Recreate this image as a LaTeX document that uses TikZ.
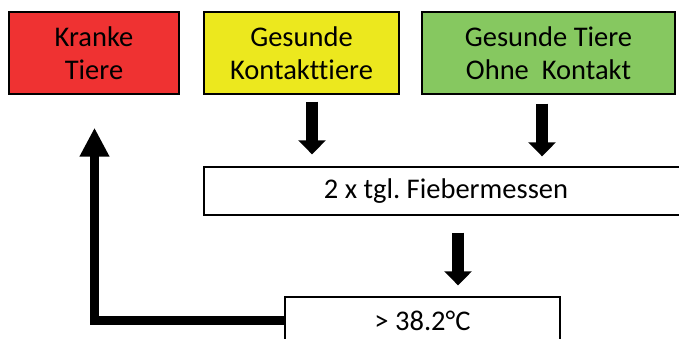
\documentclass[tikz,border=0pt]{standalone}
\usepackage{fontspec}
\setmainfont{Carlito}[Ligatures=NoCommon]
\usetikzlibrary{arrows.meta,calc}

\definecolor{sickred}{RGB}{239,50,50}
\definecolor{contactyellow}{RGB}{236,232,30}
\definecolor{healthygreen}{RGB}{134,200,96}

\tikzset{
  boxtext/.style={font=\fontsize{28.5}{32.5}\selectfont},
  groupbox/.style={boxtext, draw=black, line width=1.4pt, inner sep=0pt,
    align=center},
  flowbox/.style={boxtext, draw=black, line width=1.4pt, fill=white,
    inner sep=0pt, align=center},
  blockarrow/.style={line width=12.5pt, -{Triangle[width=27pt,length=14pt]}},
  returnarrow/.style={line width=9.5pt, -{Triangle[width=28pt,length=29pt]}}
}

\begin{document}
\frenchspacing
\begin{tikzpicture}[x=1pt,y=-1pt]
  \useasboundingbox (0,0) rectangle (679,338);
  \clip (0,0) rectangle (679,338);

  % the three groups of animals
  \node[groupbox, fill=sickred, minimum width=170pt, minimum height=82pt]
    (krank) at (94,53) {Kranke\\Tiere};
  \node[groupbox, fill=contactyellow, minimum width=195pt, minimum height=82pt]
    (kontakt) at (301.5,53) {Gesunde\\Kontakttiere};
  \node[groupbox, fill=healthygreen, minimum width=253pt, minimum height=82pt]
    (ohne) at (548.5,53) {Gesunde Tiere\\Ohne\ \ Kontakt};

  % measuring and threshold
  \node[flowbox, minimum width=484pt, minimum height=48pt]
    (fieber) at (446,191) {2 x tgl. Fiebermessen};
  \node[flowbox, minimum width=275pt, minimum height=48pt]
    (grenze) at (422.5,321) {> 38.2°C};

  % arrow anchor points
  \coordinate (kontaktOut) at ($(kontakt.south)+(10.5,0)$);
  \coordinate (ohneOut) at ($(ohne.south)+(-6.5,0)$);
  \coordinate (fieberOut) at ($(fieber.south)+(12,0)$);
  \coordinate (turn) at (94.5,320.5);

  \draw[blockarrow, shorten <=7pt, shorten >=12pt]
    (kontaktOut) -- (kontaktOut |- fieber.north);
  \draw[blockarrow, shorten <=9pt, shorten >=10pt]
    (ohneOut) -- (ohneOut |- fieber.north);
  \draw[blockarrow, shorten <=17pt, shorten >=11pt]
    (fieberOut) -- (fieberOut |- grenze.north);

  % back to the sick animals
  \draw[returnarrow, shorten >=33pt]
    (grenze.west |- turn) -- (turn) -- (turn |- krank.south);
\end{tikzpicture}
\end{document}
